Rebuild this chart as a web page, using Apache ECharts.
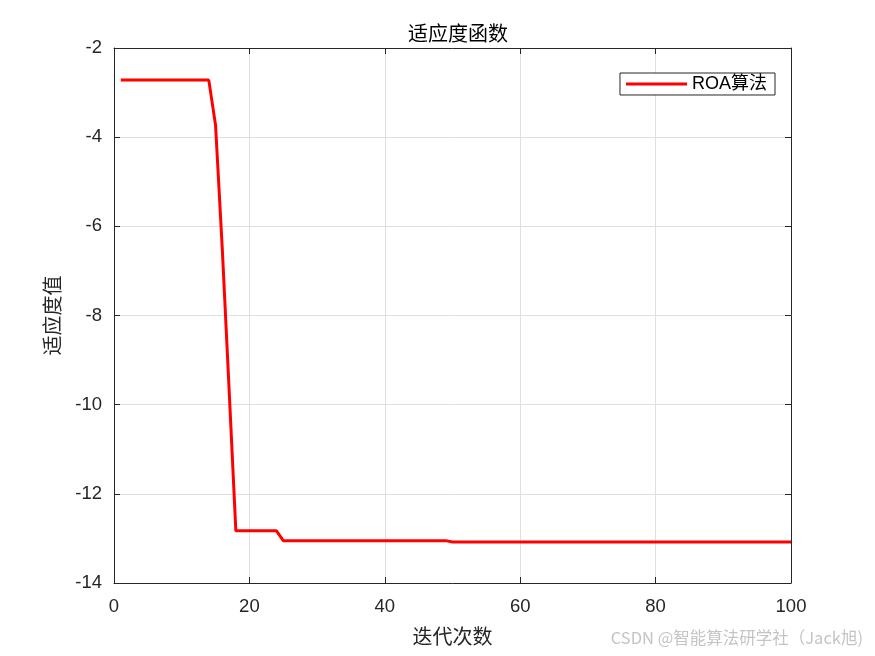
<!DOCTYPE html>
<html>
<head>
<meta charset="utf-8">
<script src="https://cdn.jsdelivr.net/npm/echarts@6/dist/echarts.min.js"></script>
<style>html,body{margin:0;padding:0;background:#fff;}#c{width:875px;height:656px;}</style>
</head>
<body>
<div id="c"></div>
<script>
// Data
const iterations = Array.from({length: 100}, (_, i) => i + 1);
const earlyValues = [-2.72, -2.72, -2.72, -2.72, -2.72, -2.72, -2.72, -2.72, -2.72, -2.72, -2.72, -2.72, -2.72, -2.72, -3.73, -6.52, -9.65];
const plateau1 = [-12.83, -12.83, -12.83, -12.83, -12.83, -12.83, -12.83]; // iter 18-24
const plateau2Value = -13.05; // iter 25-49
const plateau3Value = -13.08; // iter 50-100
const fitness = earlyValues.concat(plateau1);
for (let i = 25; i <= 49; i++) fitness.push(plateau2Value);
for (let i = 50; i <= 100; i++) fitness.push(plateau3Value);
const seriesData = iterations.map((x, i) => [x, fitness[i]]);

const xTicks = {min: 0, max: 100, interval: 20};
const yTicks = {min: -14, max: -2, interval: 2};

const chart = echarts.init(document.getElementById('c'), null, {renderer: 'canvas'});
const tickFont = {fontFamily: 'Liberation Sans, Arial, sans-serif', fontSize: 18.5, color: '#262626'};
const cjk = '"Noto Sans CJK SC", sans-serif';
const axisCommon = {
  axisLine: {show: true, onZero: false, lineStyle: {color: '#262626', width: 1}},
  axisTick: {show: true, inside: true, length: 6, lineStyle: {color: '#262626', width: 1}},
  splitLine: {show: false}
};
chart.setOption({
  animation: false,
  backgroundColor: '#ffffff',
  title: {
    text: '适应度函数', left: 453, top: 18, textAlign: 'center',
    textStyle: {fontFamily: cjk, fontSize: 20, fontWeight: 'normal', color: '#000'}
  },
  graphic: [{
    type: 'text', right: 12, top: 629,
    style: {text: 'CSDN @智能算法研学社（Jack旭)', fill: '#c4c4c4', font: '16.5px "Noto Sans CJK SC", sans-serif'}
  }],
  legend: {
    data: [{name: 'ROA算法', icon: 'rect'}], right: 100, top: 73,
    orient: 'vertical', backgroundColor: '#fff',
    borderColor: '#262626', borderWidth: 1, borderRadius: 0,
    padding: [2, 8, 2, 6], itemWidth: 61, itemHeight: 3, itemGap: 6,
    textStyle: {fontFamily: 'Liberation Sans, Arial, ' + cjk, fontSize: 18, color: '#000', lineHeight: 17},
    itemStyle: {color: '#ff0000'}
  },
  grid: {left: 114, top: 48, right: 84, bottom: 73, containLabel: false},
  xAxis: [
    Object.assign({
      type: 'value', position: 'bottom', min: xTicks.min, max: xTicks.max, interval: xTicks.interval,
      name: '迭代次数', nameLocation: 'middle', nameGap: 43,
      nameTextStyle: {fontFamily: cjk, fontSize: 20, color: '#262626'},
      axisLabel: Object.assign({margin: 14}, tickFont)
    }, axisCommon, {splitLine: {show: true, lineStyle: {color: '#dfdfdf', width: 1}}}),
    Object.assign({
      type: 'value', position: 'top', min: xTicks.min, max: xTicks.max, interval: xTicks.interval,
      axisLabel: {show: false}
    }, axisCommon)
  ],
  yAxis: [
    Object.assign({
      type: 'value', position: 'left', min: yTicks.min, max: yTicks.max, interval: yTicks.interval,
      name: '适应度值', nameLocation: 'middle', nameGap: 52, nameRotate: 90,
      nameTextStyle: {fontFamily: cjk, fontSize: 20, color: '#262626'},
      axisLabel: Object.assign({margin: 12}, tickFont)
    }, axisCommon, {splitLine: {show: true, lineStyle: {color: '#dfdfdf', width: 1}}}),
    Object.assign({
      type: 'value', position: 'right', min: yTicks.min, max: yTicks.max, interval: yTicks.interval,
      axisLabel: {show: false}
    }, axisCommon)
  ],
  series: [{
    name: 'ROA算法', type: 'line', data: seriesData,
    symbol: 'none', lineStyle: {color: '#ff0000', width: 3}, itemStyle: {color: '#ff0000'}
  }]
});
</script>
</body>
</html>
